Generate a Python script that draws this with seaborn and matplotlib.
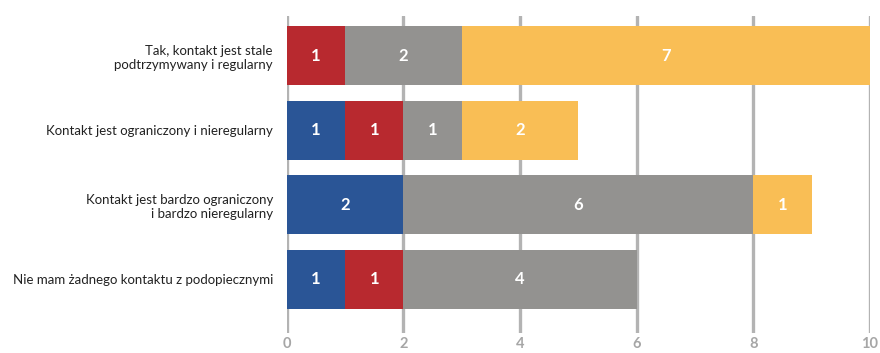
import matplotlib
matplotlib.use("Agg")
import matplotlib.pyplot as plt
import seaborn as sns
import numpy as np
import pandas as pd

categories = ["Tak, kontakt jest stale\npodtrzymywany i regularny",
              "Kontakt jest ograniczony i nieregularny",
              "Kontakt jest bardzo ograniczony\ni bardzo nieregularny",
              "Nie mam żadnego kontaktu z podopiecznymi"]
series_names = ["s1", "s2", "s3", "s4"]
blue_vals = [0, 1, 2, 1]
red_vals = [1, 1, 0, 1]
gray_vals = [2, 1, 6, 4]
yellow_vals = [7, 2, 1, 0]
x_ticks = [0, 2, 4, 6, 8, 10]

colors = ["#2A5596", "#B8292F", "#939290", "#F9BE55"]

sns.set_theme(style="white")
plt.rcParams["font.family"] = ["Lato", "DejaVu Sans"]

fig = plt.figure(figsize=(8.8, 3.53), dpi=100)
ax = fig.add_axes([0.326, 0.0567, 0.6626, 0.898])

vals = np.array([blue_vals, red_vals, gray_vals, yellow_vals], dtype=float)
cum = np.cumsum(vals, axis=0)

for k in range(3, -1, -1):
    df = pd.DataFrame({"cat": categories, "val": cum[k]})
    sns.barplot(data=df, x="val", y="cat", orient="h", color=colors[k],
                saturation=1, width=0.79, ax=ax, zorder=3, linewidth=0)

for k in range(4):
    for i in range(len(categories)):
        v = vals[k, i]
        if v > 0:
            ax.text(cum[k, i] - v / 2, i, f"{int(v)}", ha="center", va="center",
                    color="white", fontsize=12, fontweight="bold", zorder=5)

ax.set_xlim(0, 10)
ax.set_ylim(3.72, -0.53)
ax.set_xticks(x_ticks)
ax.set_xticklabels([str(t) for t in x_ticks], color="#A6A6A6", fontsize=10.5,
                   fontweight="bold")
ax.tick_params(axis="x", length=0, pad=3)
ax.tick_params(axis="y", length=0, pad=10)
for lab in ax.get_yticklabels():
    lab.set_fontsize(9.5)
    lab.set_color("#222222")
    lab.set_multialignment("right")
ax.set_xlabel("")
ax.set_ylabel("")
ax.set_axisbelow(True)
ax.grid(axis="x", color="#B3B3B3", linewidth=2.4, zorder=0)
ax.grid(axis="y", visible=False)
for s in ax.spines.values():
    s.set_visible(False)

fig.savefig("out.png", dpi=100)
